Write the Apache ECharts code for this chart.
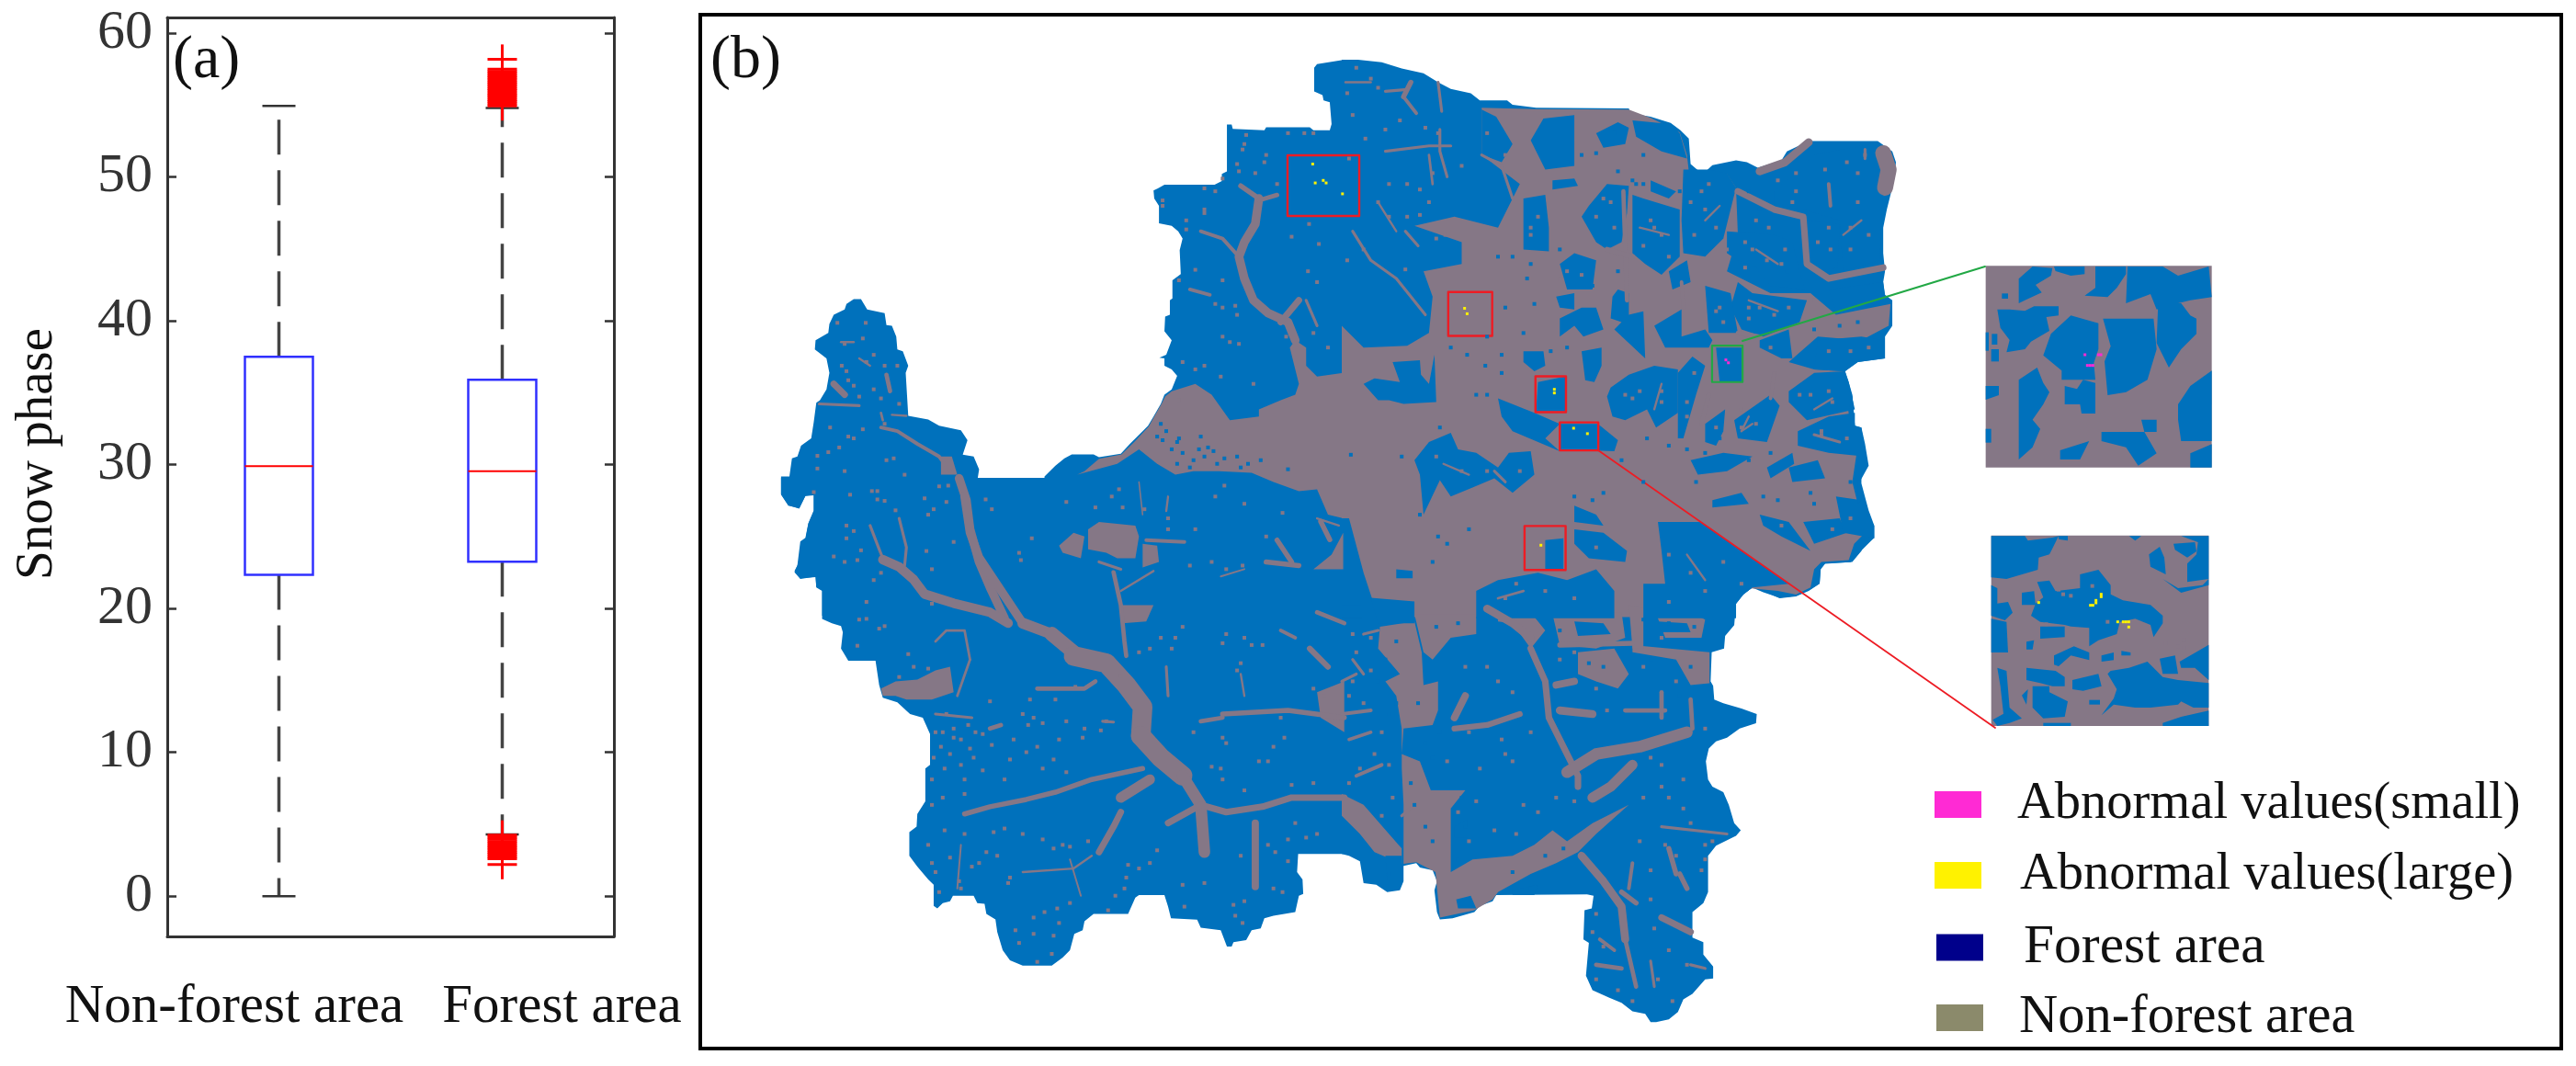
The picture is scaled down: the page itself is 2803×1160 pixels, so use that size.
<!DOCTYPE html>
<html>
<head>
<meta charset="utf-8">
<title>Snow phase</title>
<style>html,body{margin:0;padding:0;background:#fff}#chart{width:2803px;height:1160px}</style>
<script src="https://cdn.jsdelivr.net/npm/echarts@6/dist/echarts.min.js"></script>
</head>
<body>
<div id="chart"></div>
<script>
// (a) box plot: [q1, median, q3, whisker low, whisker high]
var boxCategories = ['Non-forest area', 'Forest area'];
var boxStats = [
    [22.35, 29.9, 37.5, 0, 54.95],
    [23.25, 29.55, 35.9, 4.3, 54.8]
];
var forestOutliersHigh = [58.2, 57.5, 57.35, 57.2, 57.05, 56.9, 56.75, 56.6, 56.45, 56.3, 56.15, 56, 55.85, 55.7, 55.55, 55.4, 55.25, 55.1, 54.95];
var forestOutliersLow = [4.25, 4.1, 3.95, 3.8, 3.65, 3.5, 3.35, 3.2, 3.05, 2.9, 2.75, 2.6, 2.2];
var snowTicks = [0, 10, 20, 30, 40, 50, 60];

// (b) map, one list per quarter of the map, flat x,y pairs
var tileA = [840, 50], tileB = [1460, 50], tileC = [840, 520], tileD = [1460, 520];
var tileUnit = 620 / 1568;

var forestOutlineA = [1575,38,1500,50,1492,60,1492,125,1515,135,1518,150,1535,155,1540,215,1535,232,1490,232,1480,224,1360,224,1355,232,1268,228,1265,216,1252,216,1252,345,1238,352,1238,372,1218,382,1080,382,1062,392,1050,398,1052,420,1065,440,1065,488,1100,495,1118,510,1130,530,1122,562,1125,628,1102,645,1102,695,1095,700,1095,740,1082,745,1080,785,1100,810,1085,850,1066,858,1080,860,1080,880,1100,890,1115,908,1100,945,1080,960,1070,985,1050,1020,1035,1045,1020,1060,985,1095,960,1122,900,1132,885,1124,825,1124,805,1135,780,1155,750,1185,748,1245,728,1255,712,1280,690,1280,682,1258,665,1232,630,1220,600,1208,565,1197,570,1165,555,1130,525,1125,538,1085,520,1058,460,1045,430,1028,375,1018,368,900,375,880,360,840,345,835,342,800,330,770,315,768,310,735,262,725,245,697,225,697,205,710,200,725,170,740,158,765,155,790,120,810,118,835,150,860,158,900,150,945,132,975,122,982,115,1035,108,1080,80,1100,70,1130,55,1135,48,1185,25,1185,25,1235,45,1265,75,1272,92,1238,115,1235,115,1280,100,1315,92,1360,78,1400,70,1430,62,1445,78,1465,120,1462,122,1490,138,1500,138,1568,1575,1568];
var forestOutlineB = [0,38,45,38,110,45,165,62,225,75,265,100,300,118,355,130,380,150,455,150,470,162,535,170,790,172,795,185,850,195,905,212,932,232,955,255,960,325,980,342,1005,342,1020,328,1085,315,1115,320,1145,335,1210,315,1225,290,1285,262,1475,262,1515,290,1525,320,1520,370,1500,450,1490,500,1490,570,1495,620,1490,650,1495,685,1515,700,1515,770,1495,800,1495,860,1420,870,1385,895,1395,925,1405,960,1412,1045,1430,1050,1440,1095,1450,1155,1428,1195,1430,1250,1450,1300,1465,1320,1465,1355,1440,1365,1430,1390,1405,1420,1330,1425,1318,1440,1315,1480,1285,1500,1250,1515,1205,1520,1155,1498,1130,1490,1105,1510,1085,1535,1085,1568,0,1568];
var forestOutlineC = [25,0,25,45,45,75,75,85,92,50,115,48,115,90,100,125,92,165,78,175,70,240,62,260,78,278,120,272,122,300,138,310,138,388,165,400,190,408,195,425,190,470,210,503,285,503,295,570,305,605,345,618,380,650,415,660,435,705,435,790,422,800,422,890,400,925,398,960,378,975,378,1040,400,1070,430,1105,445,1120,445,1178,455,1185,470,1170,490,1165,498,1150,555,1150,565,1170,585,1172,590,1200,615,1215,620,1250,635,1300,655,1328,690,1342,770,1342,800,1320,820,1300,832,1255,855,1245,860,1220,885,1200,980,1200,1000,1155,1010,1148,1080,1148,1090,1180,1098,1212,1170,1216,1180,1238,1235,1245,1252,1290,1265,1290,1270,1278,1305,1272,1320,1245,1345,1240,1355,1212,1380,1205,1440,1195,1450,1150,1462,1145,1460,1105,1445,1085,1448,1035,1575,1035,1575,0];
var forestOutlineD = [0,0,0,1035,20,1040,50,1055,60,1115,95,1120,125,1140,160,1135,170,1110,170,1068,205,1060,215,1072,250,1080,262,1110,255,1135,262,1195,270,1215,305,1212,365,1195,380,1178,415,1165,425,1148,675,1146,693,1150,688,1185,668,1190,665,1270,680,1280,672,1370,690,1410,735,1430,770,1445,800,1468,835,1475,850,1498,865,1498,900,1490,925,1470,940,1435,965,1420,1000,1380,1022,1378,1022,1345,995,1312,995,1278,965,1265,965,1195,995,1170,1008,1140,1008,1040,1030,1012,1085,985,1098,970,1080,950,1065,900,1050,865,1020,850,1008,830,1002,780,1010,745,1030,725,1060,715,1095,690,1140,675,1142,650,1100,635,1050,620,1025,610,1022,572,1015,560,1018,480,1052,470,1055,435,1080,405,1085,345,1105,320,1130,302,1160,315,1205,330,1250,325,1285,310,1315,290,1318,250,1330,235,1400,232,1430,200,1465,165,1465,130,1450,90,1442,60,1430,15,1430,0];

var greyPatchesA = [
    [1572,900,1500,910,1470,880,1470,830,1440,810,1425,830,1450,930,1440,960,1400,975,1340,1000,1340,1020,1260,1030,1210,960,1165,930,1100,950,1082,965,1072,985,1052,1020,1037,1047,1000,1087,962,1124,900,1136,860,1170,840,1180,950,1150,1010,1110,1060,1150,1110,1180,1160,1170,1230,1170,1320,1175,1380,1200,1450,1225,1500,1220,1530,1290,1572,1300],
    [870,1330,900,1310,1000,1320,1010,1350,1000,1410,950,1410,920,1395,870,1385],
    [790,1375,830,1340,860,1350,850,1410,800,1395],
    [1020,1370,1060,1375,1065,1420,1020,1435],
    [1490,1440,1540,1400,1572,1340,1572,1440],
    [465,1130,495,1130,510,1180,465,1180]
];
var greyPatchesB = [
    [0,770,60,830,180,825,240,790,250,690,225,620,330,600,330,540,200,495,310,470,430,500,490,380,385,300,385,170,535,174,790,175,850,198,930,238,950,300,955,345,1060,352,1085,390,1090,520,1060,620,1180,680,1290,680,1360,740,1510,710,1505,770,1430,810,1310,800,1230,870,1300,890,1380,895,1392,990,1400,1045,1420,1100,1405,1200,1420,1260,1440,1340,1410,1370,1395,1415,1320,1420,1300,1440,1290,1490,1250,1510,1200,1500,1100,1490,1070,1572,100,1572,60,1450,20,1300,0,1300]
];
var greyPatchesC = [
    [965,350,1050,350,1030,395,965,400],
    [300,580,340,560,400,555,450,530,490,520,500,590,440,610,370,610,340,600,305,600],
    [1500,590,1575,560,1575,700,1510,660]
];
var greyPatchesD = [
    [105,410,200,395,220,480,225,570,265,560,265,640,250,680,170,690,165,760,215,780,245,860,340,860,300,910,300,1010,300,1085,360,1050,470,1040,530,1010,580,970,620,1000,690,950,790,900,700,980,650,1030,590,1060,520,1090,430,1140,415,1160,365,1190,270,1210,262,1130,258,1085,205,1058,170,1062,170,900,165,800,165,690,150,600,120,560,160,540,100,470],
    [0,870,60,900,130,980,165,1020,165,1062,90,1030,50,980,0,930],
    [800,460,1012,480,1012,565,960,570,920,500,800,480],
    [200,375,370,375,370,430,300,440,250,500,225,480],
    [430,350,500,345,560,420,520,470,470,400,430,395],
    [580,375,770,370,780,440,700,470,600,460],
    [790,350,830,360,830,470,800,470],
    [650,480,750,470,790,540,760,580,700,560,650,540],
    [860,360,920,380,960,370,1000,390,990,440,890,440]
];
// rivers: first number is the width, the rest is the path
var riversA = [
    [24,1340,420,1330,490,1300,540,1285,580,1300,640,1325,700,1365,735,1420,760,1440,810],
    [14,1290,385,1340,420],
    [12,1390,410,1340,425],
    [10,1180,510,1240,530,1285,580],
    [10,1150,670,1205,685],
    [18,1450,700,1400,760],
    [10,300,1050,345,1060,400,1095,460,1130,490,1170],
    [24,515,1190,535,1250,545,1330,570,1420,600,1490,640,1575],
    [8,350,1300,370,1380,365,1430],
    [8,270,1320,295,1385,305,1410],
    [10,1030,1360,1135,1365],
    [8,900,1420,960,1440],
    [6,1050,1445,960,1500],
    [14,1360,1420,1450,1430],
    [14,1390,1360,1430,1420],
    [12,315,905,325,950],
    [8,130,985,240,990],
    [18,170,930,200,960],
    [4,1010,1200,1020,1290],
    [6,1090,1240,1085,1280],
    [5,1235,1460,1300,1440],
    [6,1500,1300,1560,1320],
    [8,1500,770,1470,700],
    [6,190,815,225,815],
    [6,240,860,270,880],
    [7,300,1010,305,1030],
    [6,330,1015,370,1018]
];
var riversB = [
    [8,120,290,240,275,300,275],
    [10,170,140,205,185],
    [8,265,100,275,180],
    [8,120,125,180,120],
    [14,190,100,170,140],
    [8,270,230,270,290,290,360],
    [8,385,300,440,330,470,420],
    [8,30,510,80,590,150,640,230,740],
    [6,100,430,150,510],
    [6,10,100,80,100],
    [8,175,510,210,550],
    [7,240,300,250,380],
    [22,1150,345,1220,320,1285,265],
    [18,1090,400,1190,450,1270,470,1280,600,1340,640,1490,610],
    [44,1490,295,1505,340,1495,390],
    [12,775,400,785,700],
    [10,1340,380,1345,440],
    [8,1440,285,1440,310],
    [10,935,650,940,720],
    [12,1090,790,1150,800],
    [12,1010,960,990,1040],
    [10,1190,900,1180,970],
    [14,730,560,800,580],
    [6,1100,1060,1130,1040],
    [6,1000,480,1040,440],
    [6,1140,560,1200,600],
    [6,820,500,900,520],
    [6,1380,520,1430,480],
    [6,1300,1000,1350,970],
    [6,880,930,860,1000],
    [6,1120,1020,1100,1060],
    [6,280,1150,350,1180],
    [7,430,1520,500,1500],
    [6,950,1400,1000,1470],
    [8,420,1170,450,1200],
    [8,1300,1070,1370,1090],
    [6,1120,700,1200,730]
];
var riversC = [
    [24,530,50,545,150,570,220,610,280,650,340,690,400],
    [30,690,400,770,430],
    [40,770,430,830,480],
    [54,830,490,920,510,975,570,1020,630,1015,710],
    [54,1015,710,1070,770,1130,820],
    [32,1130,820,1180,900,1190,1030],
    [26,305,225,350,245,390,280,420,320,500,345,600,370,650,400],
    [12,940,260,960,350,970,450,975,490],
    [14,530,925,600,905,700,885,780,865,880,830,1020,800],
    [28,960,880,1040,830],
    [18,1090,950,1180,900,1250,920,1350,905,1430,880,1575,880],
    [14,1240,650,1420,640,1575,660],
    [12,730,580,860,580,890,560],
    [20,1330,950,1330,1125],
    [18,900,1030,940,960,960,920],
    [6,880,1040,830,1075,690,1085],
    [8,450,650,550,660],
    [7,450,450,480,420,530,420,545,500],
    [7,545,500,510,600],
    [12,600,690,630,680],
    [8,1085,520,1090,600],
    [6,1290,540,1300,600],
    [10,1400,420,1440,440],
    [16,1480,470,1530,520],
    [12,1500,370,1575,400],
    [12,1180,670,1240,660],
    [14,1510,120,1535,170],
    [5,820,1050,850,1150],
    [5,520,1010,510,1130],
    [8,910,670,940,672]
];
var riversD = [
    [16,310,690,400,680,490,650],
    [18,520,470,560,560,570,660,610,740,650,820,650,850],
    [32,620,810,700,760,820,740,950,700],
    [28,690,880,740,850,800,790],
    [22,660,1040,720,1110,770,1180,780,1270],
    [14,770,1140,810,1170],
    [18,880,1210,960,1250],
    [12,700,1340,770,1350],
    [12,780,1270,810,1400],
    [8,850,1330,860,1400],
    [12,960,610,965,690],
    [8,960,1340,1000,1350],
    [14,930,1090,950,1130],
    [8,880,960,1060,980],
    [20,590,570,640,560],
    [22,600,640,690,650],
    [12,780,640,890,640],
    [14,600,460,800,455],
    [22,400,360,470,400,520,440],
    [20,340,600,310,660],
    [12,880,590,880,660],
    [10,800,1060,790,1130],
    [14,900,1020,920,1090],
    [10,710,1270,750,1300],
    [10,0,650,80,640],
    [8,30,500,60,540],
    [9,20,720,80,700],
    [10,40,820,110,790],
    [8,60,430,100,420],
    [8,0,560,40,540],
    [8,200,900,165,930]
];
var forestIslandsB = [
    [60,930,90,915,160,925,140,870,215,865,218,905,240,930,255,850,260,980,170,985,130,975,100,975],
    [200,1140,240,1090,300,1065,320,1110,370,1120,430,1160,460,1120,520,1115,530,1180,470,1230,420,1190,360,1215,300,1240,270,1195,225,1290,215,1180],
    [500,840,555,840,560,880,530,895,500,870],
    [540,925,615,910,615,1005,535,1005],
    [430,970,530,1010,600,1040,560,1080,600,1115,470,1060,440,1020],
    [600,1040,705,1040,760,1085,750,1115,600,1110],
    [590,690,640,680,640,725,600,720],
    [600,750,660,720,700,720,720,780,665,800,640,770,600,800],
    [745,690,760,670,790,680,790,740,830,730,835,860,750,780,770,760,740,750],
    [660,840,715,830,715,880,695,925,670,920],
    [740,940,790,905,860,880,925,890,925,1010,865,1050,840,1000,780,1030,745,1020,730,965],
    [925,900,965,855,1000,880,975,960,940,1080,925,1080],
    [860,770,935,725,935,800,1000,780,1020,810,1010,830,940,830,890,830],
    [680,440,730,380,790,385,785,460,770,540,730,560,700,540,660,470],
    [800,410,830,420,930,450,930,580,880,630,835,600,800,570],
    [500,420,560,410,570,500,570,565,500,560,500,490],
    [600,600,640,570,700,590,690,670,620,670],
    [900,620,950,590,960,650,910,670],
    [940,340,1010,340,1060,350,1085,390,1065,470,1050,530,1000,580,940,570,935,480],
    [1060,510,1190,520,1240,540,1260,620,1275,670,1180,660,1140,610,1090,590,1060,570],
    [1190,400,1300,300,1465,268,1480,300,1490,380,1480,590,1380,620,1370,480,1270,450,1190,450],
    [1280,480,1370,490,1365,610,1310,620,1285,570],
    [1340,670,1490,650,1495,690,1360,730],
    [1090,650,1130,680,1280,700,1260,760,1160,800,1100,780,1070,720],
    [1000,660,1070,680,1090,790,1010,790],
    [1150,810,1230,780,1240,860,1210,860,1150,830],
    [1310,810,1430,800,1490,810,1495,860,1420,870,1385,895,1300,890],
    [1230,950,1300,900,1385,895,1395,925,1412,1000,1280,1030,1230,980],
    [1030,830,1100,830,1100,925,1040,925],
    [1000,1040,1055,1000,1050,1060,1030,1100,1000,1090],
    [1080,1030,1180,960,1205,990,1170,1090,1090,1080],
    [1255,1060,1340,1020,1412,1010,1412,1045,1430,1050,1440,1130,1340,1120,1255,1100],
    [1230,1160,1310,1140,1330,1190,1240,1200],
    [1020,1250,1100,1230,1120,1260,1020,1270],
    [870,1310,990,1310,1060,1360,1130,1410,1230,1480,1130,1490,1105,1510,1085,1535,1085,1575,830,1575,830,1480,890,1480,880,1390],
    [1150,1290,1230,1310,1290,1390,1210,1350,1160,1320],
    [1270,1310,1370,1300,1390,1340,1300,1370],
    [1360,1240,1430,1250,1450,1300,1465,1320,1465,1355,1380,1340],
    [640,1330,720,1340,785,1390,780,1420,680,1410,640,1370],
    [560,1360,610,1355,610,1440,560,1440],
    [640,1265,700,1290,720,1320,640,1310],
    [370,1500,430,1470,540,1450,620,1470,700,1440,750,1500,750,1575,370,1575],
    [0,1470,55,1470,55,1575,0,1575],
    [150,1440,195,1445,195,1465,150,1465],
    [1170,1160,1240,1120,1245,1150,1180,1190],
    [960,1140,1050,1120,1130,1130,1060,1170,980,1180],
    [1420,1195,1428,1195,1430,1250,1420,1260],
    [1398,990,1405,960,1412,1045,1400,1045],
    [555,200,640,190,640,330,560,340,520,260],
    [385,175,425,195,470,270,440,320,385,300],
    [800,205,905,215,930,240,950,310,880,290,810,250],
    [700,240,760,210,790,225,780,270,720,280],
    [580,370,640,365,650,385,580,395],
    [850,370,920,400,900,420,850,400]
];
var forestIslandsD = [
    [315,1160,355,1150,370,1185,320,1185],
    [470,1135,540,1120,530,1148,470,1148],
    [120,1040,165,1040,165,1110,125,1110],
    [310,960,345,940,345,990,310,990],
    [80,330,200,340,200,400,100,400],
    [0,280,55,280,55,350,0,350],
    [640,395,720,400,740,430,650,435],
    [870,395,950,400,960,425,880,425]
];

var greySpecksA = [1305,245,1420,240,1465,240,1490,240,1300,270,1295,285,1360,300,1355,320,1280,325,1285,345,1240,365,1330,350,1390,380,1190,392,1220,400,1190,450,1190,460,1140,480,1140,505,1075,425,1075,440,1165,616,1120,645,1240,645,1275,715,1240,720,1220,710,1280,740,1240,800,1260,815,1285,820,1130,870,1165,890,1190,880,1235,910,1325,930,1120,975,1430,525,1505,545,1478,490,1475,620,1500,650,1415,800,1490,790,1530,830,180,762,258,762,200,820,250,805,192,880,260,870,280,850,310,880,205,895,210,920,345,880,225,935,280,945,240,965,300,970,350,985,160,1050,210,1075,250,1055,310,1040,225,1080,155,1118,185,1105,125,1128,125,1163,200,1170,315,1140,335,1135,365,1180,115,1228,275,1225,290,1225,460,1212,485,1210,215,1235,290,1248,310,1252,420,1245,445,1275,480,1255,430,1290,605,1275,588,1248,340,1278,205,1320,225,1335,205,1355,245,1388,170,1405,235,1415,200,1420,425,1390,500,1365,715,1355,680,1395,685,1415,440,1440,300,1450,280,1470,260,1530,440,1535,890,1270,965,1270,1025,1275,1150,1430,1165,1330,1210,1420,1405,1285,1300,1260,1245,1210,1360,1350,1250,1440,1295,1430,1090,1300,1090,1330,955,1220,935,1240,810,1255,1220,1240];
var greySpecksC = [240,390,260,388,295,415,310,408,235,462,375,485,390,520,350,548,430,525,450,700,465,740,490,760,520,790,470,700,500,690,520,720,545,745,555,770,480,650,540,680,560,700,580,705,500,715,445,770,440,830,530,830,580,805,605,735,655,775,700,755,730,740,745,800,775,775,810,810,640,830,600,615,710,610,780,610,720,660,690,650,745,675,705,680,665,720,810,670,860,690,920,670,905,695,790,720,855,715,835,575,960,545,1010,480,1040,470,1070,440,1110,440,1130,410,1100,470,1250,430,1240,455,1300,440,1320,460,1350,460,1280,530,1290,510,1490,580,1520,600,1400,660,1240,715,1250,730,1380,740,1410,715,1365,780,1340,780,1210,795,1235,800,1160,700,1240,830,1300,860,1430,845,1490,840,1440,950,1470,990,1500,980,1365,1010,1420,995,1290,1040,1385,1030,1420,1055,1380,1130,1405,1140,1270,1175,1300,1165,1130,1120,1190,1115,1135,1180,1275,1205,1295,1225,1040,1060,1060,1025,980,1065,1010,1075,945,1150,970,1130,975,1100,925,1190,870,1000,820,1015,800,1010,745,995,775,1020,690,980,655,1100,650,1115,590,1030,620,1040,570,1060,550,1070,490,1045,515,1110,520,1130,430,1010,475,970,610,975,640,965,530,980,460,1140,750,1195,785,1185,820,1170,720,1210,670,1245,720,1255,775,1260,680,1280,770,1310,730,1332,790,1225,440,900,470,880,530,870,475,800,450,1085,440,1060];
var greySpecksB = [40,60,80,90,15,130,100,115,160,205,65,255,30,190,120,230,230,225,265,240,180,380,215,395,130,380,250,350,20,310,180,470,215,465,130,470,100,430,60,560,175,615,15,590,260,530,285,520,240,430,330,330,400,240,450,300,465,350,1440,300,1200,370,1010,380,1250,400,1400,500,1340,500,1240,430,1000,450,1060,560,1110,610,1140,480,1175,500,1220,560,1300,700,1150,720,1030,730,1120,750,860,500,700,470,740,430,520,500,620,620,950,1020,880,950,800,970,1100,1050,1320,1060,1260,960,1340,950,990,400,960,430,1030,500,970,520,1130,560,1170,590,1210,600,1110,540,1330,340,1390,320,1250,350,1420,430,1450,520,1400,560,1420,350,1310,540,1345,560,850,480,880,520,830,550,900,580,720,420,750,500,540,470,520,520,600,640,660,630,1120,720,1190,740,1230,720,1040,720,1050,760,1180,830,1400,840,1340,840,1450,830,1290,960,1350,980,1320,1070,1390,1080,1100,1000,1140,1040,1030,1050,820,950,880,980,780,960,970,900,950,980,260,1130,330,1170,400,1170,490,1170,480,1480,560,1500,640,1520,450,1520,900,1400,960,1450,1000,1500,1050,1420,900,1530,1100,1480,1350,1330,1400,1300,1210,1320,700,1380];
var greySpecksD = [40,480,80,530,20,600,60,620,110,700,90,760,50,800,130,790,20,840,140,880,110,930,30,560,80,440,30,430,340,520,400,520,430,560,470,590,440,720,470,780,380,800,500,900,420,970,480,980,540,920,590,880,640,890,700,580,730,640,830,520,880,440,920,560,880,850,830,880,900,880,940,910,960,950,820,1000,850,1080,890,1010,920,1040,990,1080,700,1200,690,1250,720,1290,850,1160,860,1240,900,1300,870,1380,910,1440,950,1340,700,1380,760,1410,800,1440,1000,690,880,790,940,830,850,770,520,700,290,780,350,700,320,920,370,890,350,1000,450,760,600,500,640,480,1000,1010,1000,1050,1020,1000];
var forestSpecksB = [165,1130,25,1125,270,1050,350,1330,290,1370,265,1350,250,1420,215,1290,510,640,470,580,430,580,520,600,370,960,400,960,440,850,500,790,395,880,440,900,760,620,690,660,660,300,620,320,700,295,750,240,830,300,800,370,760,345,810,380,830,380,930,400,600,560,620,830,575,840,720,1230,830,1200,840,1080,770,1140,640,1240,690,1250,1180,1120,1120,1140,1040,1080,1000,1120,1200,1250,1290,1230,1300,1260,1160,1240,1400,1200,950,1110,900,1100,975,1200,300,830,345,850,400,800,450,720,530,710,1120,400,1150,450,1225,620,1300,780,1370,770,1420,760];
var forestSpecksD = [330,880,340,960,190,840,130,1090,320,1050,470,1085,520,1130,560,1040,610,1020,230,550,230,730,270,700,250,770,100,560,150,620,120,500,150,450,130,650,850,500,960,520,930,600,200,900,230,960,250,1000,210,620,260,410,320,400,480,370,600,420,680,510,720,520,900,400,970,410,830,390];
var forestSpecksA = [1070,1040,1085,1060,1075,1085,1115,1090,1100,1110,1130,1120,1175,1110,1190,1130,1215,1115,1245,1135,1280,1130,1310,1150,1345,1140,1420,1165,1060,1075,1150,1160,1115,1150,1225,1150,1180,1075,1200,1105,1160,1140,1120,1080,1290,1160];

// annotations traced on the same quarters
var redBoxesB = [[293,677,414,798],[533,909,617,1008],[600,1036,706,1113],[503,1321,616,1442]];
var redBoxWide = [1401,169,1479,235];
var greenBoxB = [1019,825,1103,925];
var greenLeader = [1896,371,2160,290];
var redLeader = [1739,490,2171,792];
var largeCellsMapA = [1488,325,1495,377,1517,370,1525,377];
var largeCellsMapB = [2,407,338,722,345,737,585,945,585,955,638,1052,676,1067,548,1374];
var smallCellsMapB = [1057,864,1064,872];

// insets
var insetSmallOrigin = [2140, 280];
var insetLargeOrigin = [2140, 570];
var insetUnit = 1 / 3;
var insetSmallFrame = [62,28,800,28,800,686,62,686];
var insetLargeFrame = [80,38,790,38,790,660,80,660];
var insetSmallForest = [
    [170,70,215,30,280,35,275,60,225,90,245,115,190,140,170,150],
    [100,170,140,170,190,175,220,160,300,160,300,190,260,195,270,240,210,275,190,300,130,310,140,270,110,230],
    [275,250,340,190,430,215,430,300,415,345,420,400,310,400,310,370,250,320],
    [285,30,385,30,385,55,340,60,290,45],
    [420,30,520,30,520,55,490,100,460,130,385,125,420,100],
    [525,30,640,30,690,60,790,30,800,130,730,140,690,150,620,170,600,120,520,150],
    [625,150,700,150,730,190,750,200,750,250,700,300,660,360,620,280],
    [445,200,610,200,620,300,590,400,520,440,460,450,450,340,470,290],
    [170,400,230,360,250,410,270,440,250,480,215,530,240,560,215,620,170,660],
    [320,420,360,430,380,400,420,410,420,510,375,510,370,480,320,480],
    [690,480,730,420,800,370,800,600,700,600,690,530],
    [62,420,105,420,105,450,62,465],
    [440,570,580,570,620,640,560,680,520,620,440,600],
    [730,640,800,610,800,686,730,686],
    [305,630,400,600,370,660,305,660],
    [570,530,620,530,620,570,580,570],
    [82,250,100,250,100,285,82,285],
    [62,245,72,245,72,305,62,305],
    [80,300,105,300,105,340,80,340],
    [62,560,80,560,80,605,62,605],
    [115,118,135,118,135,135,115,135]
];
var insetLargeForest = [
    [80,40,190,40,200,55,280,45,300,40,280,80,270,100,235,110,232,150,130,180,80,175],
    [300,40,330,40,330,55,300,50],
    [530,40,570,40,550,55],
    [595,100,630,75,645,110,650,165,600,140],
    [675,65,745,60,750,90,720,110,680,85],
    [700,40,790,40,790,180,720,190,720,130,750,100,755,60],
    [640,180,690,210,770,200,790,180,790,200,700,225],
    [230,190,270,185,290,220,370,210,370,165,430,150,470,200,470,230,510,250,600,265,640,300,640,325,610,370,600,330,550,310,500,320,490,360,430,380,400,400,400,340,340,335,320,330,240,320,210,300,225,260,250,240],
    [180,225,220,220,225,265,180,265],
    [80,200,100,210,100,260,135,255,150,290,125,315,80,300],
    [80,310,130,320,135,420,80,420],
    [240,335,320,335,320,370,240,375],
    [195,385,220,380,215,410,195,410],
    [285,430,350,400,400,420,400,445,340,430,300,465,285,460],
    [440,430,480,420,480,445,440,450],
    [505,415,535,420,535,430,505,430],
    [630,440,680,430,690,490,640,490],
    [695,450,790,395,790,510,745,470,700,470],
    [195,470,290,480,320,500,320,530,280,530,240,520,195,510],
    [345,510,430,490,440,530,380,545,345,540],
    [470,480,530,470,590,450,640,500,690,510,790,520,790,600,740,600,700,580,690,590,600,600,550,600,480,590,440,625,480,570,490,540,460,490],
    [215,530,270,530,270,550,330,580,320,630,250,635,215,600],
    [640,650,700,630,790,610,790,660,640,660],
    [100,470,130,480,140,600,180,635,140,650,100,660,85,640,120,620,110,530],
    [180,560,200,540,195,590],
    [400,575,435,575,435,590,400,590],
    [250,650,340,650,340,660,250,660]
];
var insetLargeGreySpecks = [410,203,300,215,315,230,340,235,690,375,710,380,690,400,710,405,650,390,260,328,460,320];
var smallCellsInset = [386,318,430,318,438,318,394,353,403,353,412,353];
var largeCellsInset = [235,257,404,266,412,266,422,250,422,258,439,230,439,238,493,320,511,320,520,320,529,320,529,337];

// flat x,y pairs -> map points
function place(origin, unit, flat) {
    var points = [];
    for (var i = 0; i + 1 < flat.length; i += 2) {
        points.push([origin[0] + flat[i] * unit, origin[1] + flat[i + 1] * unit]);
    }
    return points;
}
function placeAll(origin, unit, list) {
    return list.map(function (flat) { return place(origin, unit, flat); });
}
function placeRivers(origin, list) {
    return list.map(function (row) {
        return { width: row[0] * tileUnit, points: place(origin, tileUnit, row.slice(1)) };
    });
}
function boxRing(origin, unit, box) {
    return place(origin, unit, [box[0], box[1], box[2], box[1], box[2], box[3], box[0], box[3]]);
}

var forestBase = [
    place(tileA, tileUnit, forestOutlineA), place(tileB, tileUnit, forestOutlineB),
    place(tileC, tileUnit, forestOutlineC), place(tileD, tileUnit, forestOutlineD)
];
var greyRings = placeAll(tileA, tileUnit, greyPatchesA)
    .concat(placeAll(tileB, tileUnit, greyPatchesB))
    .concat(placeAll(tileC, tileUnit, greyPatchesC))
    .concat(placeAll(tileD, tileUnit, greyPatchesD))
    .concat([place(insetSmallOrigin, insetUnit, insetSmallFrame), place(insetLargeOrigin, insetUnit, insetLargeFrame)]);
var forestRings = placeAll(tileB, tileUnit, forestIslandsB)
    .concat(placeAll(tileD, tileUnit, forestIslandsD))
    .concat(placeAll(insetSmallOrigin, insetUnit, insetSmallForest))
    .concat(placeAll(insetLargeOrigin, insetUnit, insetLargeForest));
var rivers = placeRivers(tileA, riversA).concat(placeRivers(tileB, riversB))
    .concat(placeRivers(tileC, riversC)).concat(placeRivers(tileD, riversD));
var greySpecks = place(tileA, tileUnit, greySpecksA).concat(place(tileB, tileUnit, greySpecksB))
    .concat(place(tileC, tileUnit, greySpecksC)).concat(place(tileD, tileUnit, greySpecksD))
    .concat(place(insetLargeOrigin, insetUnit, insetLargeGreySpecks));
var forestSpecks = place(tileA, tileUnit, forestSpecksA).concat(place(tileB, tileUnit, forestSpecksB))
    .concat(place(tileD, tileUnit, forestSpecksD));
var largeCells = place(tileA, tileUnit, largeCellsMapA).concat(place(tileB, tileUnit, largeCellsMapB))
    .concat(place(insetLargeOrigin, insetUnit, largeCellsInset));
var smallCells = place(tileB, tileUnit, smallCellsMapB).concat(place(insetSmallOrigin, insetUnit, smallCellsInset));
var redBoxes = redBoxesB.map(function (box) { return boxRing(tileB, tileUnit, box); })
    .concat([boxRing([0, 0], 1, redBoxWide)]);
var greenBoxes = [boxRing(tileB, tileUnit, greenBoxB)];

var FOREST = '#0071bc', GREY = '#857786', SERIF = 'Liberation Serif';

function ringSeries(name, rings, color) {
    return {
        name: name, type: 'custom', xAxisIndex: 2, yAxisIndex: 2, animation: false, silent: true,
        data: rings.map(function (ring) { return ring[0]; }),
        renderItem: function (params, api) {
            return {
                type: 'polygon',
                shape: { points: rings[params.dataIndex].map(function (p) { return api.coord(p); }) },
                style: { fill: color }
            };
        }
    };
}
function pathSeries(name, paths, color) {
    return {
        name: name, type: 'custom', xAxisIndex: 2, yAxisIndex: 2, animation: false, silent: true,
        data: paths.map(function (path) { return path.points[0]; }),
        renderItem: function (params, api) {
            var path = paths[params.dataIndex];
            return {
                type: 'polyline',
                shape: { points: path.points.map(function (p) { return api.coord(p); }) },
                style: { stroke: color, fill: null, lineWidth: path.width, lineJoin: 'round', lineCap: 'round' }
            };
        }
    };
}
function cellSeries(name, cells, color, size) {
    return {
        name: name, type: 'scatter', xAxisIndex: 2, yAxisIndex: 2, animation: false, silent: true,
        symbol: 'rect', symbolSize: size, itemStyle: { color: color, opacity: 1 }, data: cells
    };
}
function outlinePaths(rings, width) {
    return rings.map(function (ring) { return { width: width, points: ring.concat([ring[0]]) }; });
}
function legendAt(name, color, left, top, fontSize, padLeft) {
    return {
        data: [{ name: name, icon: 'rect', itemStyle: { color: color } }],
        left: left, top: top, padding: 0, itemWidth: 51, itemHeight: 29, selectedMode: false,
        textStyle: { fontFamily: SERIF, fontSize: fontSize, color: '#111', lineHeight: 29, padding: [0, 0, 0, padLeft] }
    };
}

// whiskers, caps, box and median of one category
function renderBox(params, api) {
    var x = api.value(0);
    var q1 = api.coord([x, api.value(1)]), med = api.coord([x, api.value(2)]), q3 = api.coord([x, api.value(3)]);
    var lo = api.coord([x, api.value(4)]), hi = api.coord([x, api.value(5)]);
    var cx = q1[0];
    var whisker = { stroke: '#444', lineWidth: 3.5, lineDash: [38, 17] };
    var cap = { stroke: '#333', lineWidth: 2.5 };
    return {
        type: 'group',
        children: [
            { type: 'line', shape: { x1: cx, y1: q1[1], x2: cx, y2: lo[1] }, style: whisker },
            { type: 'line', shape: { x1: cx, y1: q3[1], x2: cx, y2: hi[1] }, style: whisker },
            { type: 'line', shape: { x1: cx - 18, y1: lo[1], x2: cx + 18, y2: lo[1] }, style: cap },
            { type: 'line', shape: { x1: cx - 18, y1: hi[1], x2: cx + 18, y2: hi[1] }, style: cap },
            { type: 'rect', shape: { x: cx - 37, y: q3[1], width: 74, height: q1[1] - q3[1] }, style: { fill: null, stroke: '#3030ff', lineWidth: 2.5 } },
            { type: 'line', shape: { x1: cx - 37, y1: med[1], x2: cx + 37, y2: med[1] }, style: { stroke: '#ff0000', lineWidth: 2 } }
        ]
    };
}
function renderCross(params, api) {
    var p = api.coord([api.value(0), api.value(1)]);
    var style = { stroke: '#ff0000', lineWidth: 3 };
    return {
        type: 'group',
        children: [
            { type: 'line', shape: { x1: p[0] - 16, y1: p[1], x2: p[0] + 16, y2: p[1] }, style: style },
            { type: 'line', shape: { x1: p[0], y1: p[1] - 16, x2: p[0], y2: p[1] + 16 }, style: style }
        ]
    };
}

var chart = echarts.init(document.getElementById('chart'), null, { renderer: 'canvas' });
var snowAxisLine = { lineStyle: { color: '#333', width: 3 } };
var tickStyle = { inside: true, length: 10, lineStyle: { color: '#333', width: 2.5 } };

chart.setOption({
    backgroundColor: '#fff',
    animation: false,
    title: [
        { text: '(a)', left: 188, top: 34, padding: 0, textStyle: { fontFamily: SERIF, fontWeight: 'normal', fontSize: 66, color: '#111' } },
        { text: '(b)', left: 773, top: 34, padding: 0, textStyle: { fontFamily: SERIF, fontWeight: 'normal', fontSize: 66, color: '#111' } }
    ],
    legend: [
        legendAt('Abnormal values(small)', '#ff2ad4', 2105, 847, 56.5, 34),
        legendAt('Abnormal values(large)', '#fff200', 2105, 924, 56.5, 37),
        legendAt('Forest area', '#00008b', 2107, 1001, 59.5, 39),
        legendAt('Non-forest area', '#8b8a6b', 2107, 1078, 58.5, 34)
    ],
    grid: [
        { left: 182, top: 19, width: 486, height: 1000, containLabel: false },
        { left: 762, top: 16, width: 2025, height: 1125, show: true, borderColor: '#000', borderWidth: 4, backgroundColor: '#fff' }
    ],
    xAxis: [
        {
            type: 'category', gridIndex: 0, position: 'bottom', data: [
                { value: boxCategories[0], textStyle: { padding: [0, 97, 0, 0] } },
                { value: boxCategories[1], textStyle: { padding: [0, 0, 0, 130] } }
            ],
            axisLine: { onZero: false, lineStyle: snowAxisLine.lineStyle },
            axisTick: { alignWithLabel: true, inside: true, length: 10, lineStyle: tickStyle.lineStyle },
            axisLabel: { interval: 0, margin: 48, fontFamily: SERIF, fontSize: 59, color: '#111' }
        },
        {
            type: 'category', gridIndex: 0, position: 'top', data: boxCategories,
            axisLine: { onZero: false, lineStyle: snowAxisLine.lineStyle },
            axisTick: { alignWithLabel: true, inside: true, length: 10, lineStyle: tickStyle.lineStyle },
            axisLabel: { show: false }
        },
        { type: 'value', gridIndex: 1, min: 762, max: 2787, show: false }
    ],
    yAxis: [
        {
            type: 'value', gridIndex: 0, min: -2.8, max: 61.1, position: 'left',
            name: 'Snow phase', nameLocation: 'middle', nameRotate: 90, nameGap: 112,
            nameTextStyle: { fontFamily: SERIF, fontSize: 57, color: '#111', padding: [0, 0, 0, 50] },
            axisLine: { show: true, onZero: false, lineStyle: snowAxisLine.lineStyle },
            axisTick: { show: true, inside: true, length: 10, lineStyle: tickStyle.lineStyle, customValues: snowTicks },
            axisLabel: { customValues: snowTicks, margin: 16, fontFamily: SERIF, fontSize: 60, color: '#333' },
            splitLine: { show: false }
        },
        {
            type: 'value', gridIndex: 0, min: -2.8, max: 61.1, position: 'right',
            axisLine: { show: true, onZero: false, lineStyle: snowAxisLine.lineStyle },
            axisTick: { show: true, inside: true, length: 10, lineStyle: tickStyle.lineStyle, customValues: snowTicks },
            axisLabel: { show: false },
            splitLine: { show: false }
        },
        { type: 'value', gridIndex: 1, min: 16, max: 1141, inverse: true, show: false }
    ],
    series: [
        {
            name: 'Snow phase', type: 'custom', xAxisIndex: 0, yAxisIndex: 0, animation: false, silent: true, z: 3,
            encode: { x: 0, y: [1, 2, 3, 4, 5] },
            data: boxStats.map(function (s, i) { return [i].concat(s); }),
            renderItem: renderBox
        },
        {
            name: 'Outliers', type: 'custom', xAxisIndex: 0, yAxisIndex: 0, animation: false, silent: true, z: 4,
            data: forestOutliersHigh.concat(forestOutliersLow).map(function (v) { return [1, v]; }),
            renderItem: renderCross
        },
        ringSeries('Forest area', forestBase, FOREST),
        ringSeries('Non-forest area', greyRings, GREY),
        ringSeries('Forest area', forestRings, FOREST),
        pathSeries('Non-forest area', rivers, GREY),
        cellSeries('Non-forest area', greySpecks, GREY, 4),
        cellSeries('Forest area', forestSpecks, FOREST, 4),
        cellSeries('Abnormal values(large)', largeCells, '#fff200', 3),
        cellSeries('Abnormal values(small)', smallCells, '#ff2ad4', 3),
        pathSeries('Red boxes', outlinePaths(redBoxes, 2.4), '#ed1c24'),
        pathSeries('Green boxes', outlinePaths(greenBoxes, 2.2), '#22a845'),
        pathSeries('Red leader', [{ width: 1.8, points: place([0, 0], 1, redLeader) }], '#ed1c24'),
        pathSeries('Green leader', [{ width: 2, points: place([0, 0], 1, greenLeader) }], '#22a845')
    ]
});
</script>
</body>
</html>
